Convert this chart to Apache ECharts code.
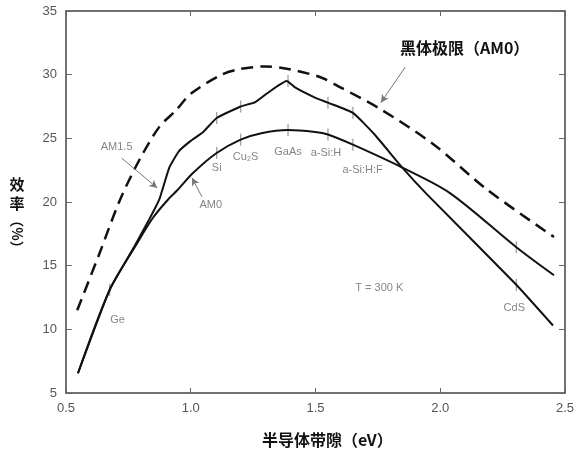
<!DOCTYPE html>
<html>
<head>
<meta charset="utf-8">
<script src="https://cdn.jsdelivr.net/npm/echarts@6/dist/echarts.min.js"></script>
<style>html,body{margin:0;padding:0;background:#fff;}#c{width:577px;height:455px;}</style>
</head>
<body>
<div id="c"></div>
<script>
// Blackbody limit (AM0), dashed
const blackbody = [[0.545,11.5],[0.635,16.0],[0.715,20.1],[0.794,23.3],[0.874,25.9],[0.941,27.2],[1.0,28.5],[1.124,30.0],[1.2,30.45],[1.3,30.65],[1.39,30.45],[1.52,29.8],[1.6,29.0],[1.76,27.3],[1.975,24.5],[2.186,21.0],[2.456,17.25]];
// AM1.5 curve
const am15 = [[0.548,6.55],[0.675,13.1],[0.774,16.5],[0.83,18.5],[0.874,20.2],[0.914,22.7],[0.953,24.0],[1.0,24.8],[1.05,25.5],[1.104,26.6],[1.2,27.5],[1.259,27.85],[1.311,28.6],[1.385,29.5],[1.418,29.0],[1.498,28.2],[1.55,27.8],[1.65,27.0],[1.737,25.3],[1.848,22.7],[1.947,20.6],[2.305,13.5],[2.452,10.3]];
// AM0 curve
const am0 = [[0.548,6.55],[0.675,13.1],[0.774,16.4],[0.85,18.8],[0.914,20.3],[0.945,20.9],[1.01,22.3],[1.104,23.85],[1.2,24.9],[1.283,25.4],[1.39,25.65],[1.498,25.5],[1.55,25.3],[1.65,24.5],[1.848,22.7],[2.039,20.7],[2.305,16.45],[2.456,14.25]];
// Material band gaps marked on the curves
const materials = ['Ge','Si','Cu₂S','GaAs','a-Si:H','a-Si:H:F','CdS'];
const materialGap = [0.675,1.104,1.2,1.39,1.55,1.65,2.305];
const am15AtGap = [13.1,26.6,27.5,29.5,27.8,27.0,13.5];
const am0AtGap = [13.1,23.85,24.9,25.65,25.3,24.5,16.45];
// Axis ticks
const xTicks = [0.5,1.0,1.5,2.0,2.5];
const yTicks = [5,10,15,20,25,30,35];

// annotation texts and anchor points (data coordinates)
const noteText = ['Ge','Si','Cu₂S','GaAs','a-Si:H','a-Si:H:F','CdS','AM1.5','AM0','T = 300 K'];
const notePos = [[0.707,10.7],[1.104,22.67],[1.22,23.5],[1.39,23.9],[1.542,23.85],[1.689,22.5],[2.297,11.67],[0.703,24.32],[1.08,19.76],[1.756,13.24]];

const chart = echarts.init(document.getElementById('c'));
const axisColor = '#444';
const labelFont = 'Liberation Sans, Arial, DejaVu Sans, sans-serif';
const cjk = '"Noto Sans CJK SC", sans-serif';

const tickData = [];
materialGap.forEach((g,i)=>{
  tickData.push([g, am15AtGap[i]]);
  if (am0AtGap[i] !== am15AtGap[i]) tickData.push([g, am0AtGap[i]]);
});

const option = {
  animation: false,
  backgroundColor: '#fff',
  grid: {left: 66, right: 8, top: 11, bottom: 62},
  xAxis: [{
    type: 'value', min: xTicks[0], max: xTicks[xTicks.length-1], interval: 0.5,
    axisLine: {lineStyle: {color: axisColor, width: 1.5}},
    axisTick: {inside: true, length: 5, lineStyle: {color: '#666'}},
    axisLabel: {color: '#555', fontSize: 13, fontFamily: labelFont, margin: 9, formatter: v => v.toFixed(1)},
    splitLine: {show: false}
  },{
    type: 'value', position: 'top', min: xTicks[0], max: xTicks[xTicks.length-1], interval: 0.5,
    axisLine: {lineStyle: {color: axisColor, width: 1.5}},
    axisTick: {inside: true, length: 5, lineStyle: {color: '#666'}},
    axisLabel: {show: false}, splitLine: {show: false}
  }],
  yAxis: [{
    type: 'value', min: yTicks[0], max: yTicks[yTicks.length-1], interval: 5,
    axisLine: {show: true, lineStyle: {color: axisColor, width: 1.5}},
    axisTick: {show: true, inside: true, length: 6, lineStyle: {color: '#666'}},
    axisLabel: {color: '#555', fontSize: 13, fontFamily: labelFont, margin: 9},
    splitLine: {show: false}
  },{
    type: 'value', position: 'right', min: yTicks[0], max: yTicks[yTicks.length-1], interval: 5,
    axisLine: {show: true, lineStyle: {color: axisColor, width: 1.5}},
    axisTick: {show: true, inside: true, length: 6, lineStyle: {color: '#666'}},
    axisLabel: {show: false}, splitLine: {show: false}
  }],
  series: [
    {
      type: 'line', name: 'blackbody', data: blackbody, smooth: 0.3, symbol: 'none',
      lineStyle: {color: '#111', width: 2.5, type: [12, 7]},
      markLine: {
        silent: true, symbol: ['none','arrow'], symbolSize: [6, 8],
        lineStyle: {color: '#777', width: 1, type: 'solid'}, label: {show: false},
        data: [[{coord: [1.86, 30.6]}, {coord: [1.762, 27.8]}]]
      }
    },
    {
      type: 'line', name: 'AM1.5', data: am15, smooth: 0.15, symbol: 'none',
      lineStyle: {color: '#111', width: 2},
      markLine: {
        silent: true, symbol: ['none','arrow'], symbolSize: [6, 8],
        lineStyle: {color: '#777', width: 1, type: 'solid'}, label: {show: false},
        data: [[{coord: [0.723, 23.45]}, {coord: [0.866, 21.1]}]]
      }
    },
    {
      type: 'line', name: 'AM0', data: am0, smooth: 0.3, symbol: 'none',
      lineStyle: {color: '#111', width: 2},
      markLine: {
        silent: true, symbol: ['none','arrow'], symbolSize: [6, 8],
        lineStyle: {color: '#777', width: 1, type: 'solid'}, label: {show: false},
        data: [[{coord: [1.045, 20.4]}, {coord: [1.005, 21.9]}]]
      }
    },
    {
      type: 'scatter', name: 'gapTicks', data: tickData, symbol: 'rect', symbolSize: [1.3, 12],
      itemStyle: {color: '#888'}, z: 1
    },
    {
      type: 'scatter', name: 'notes', symbolSize: 0,
      data: noteText.map((t,i)=>({value: notePos[i], name: t})),
      label: {show: true, position: 'inside', formatter: p => p.name, color: '#666', fontSize: 11, fontFamily: 'Liberation Sans, DejaVu Sans, sans-serif'}
    }
  ],
  graphic: [
    {type: 'text', left: 400, top: 40, style: {text: '黑体极限（AM0）', font: 'bold 16px ' + cjk, fill: '#111'}},
    {type: 'text', left: 262, top: 432, style: {text: '半导体带隙（eV）', font: 'bold 16px ' + cjk, fill: '#111'}},
    {type: 'text', x: 17, y: 194, style: {text: '效\n率', font: 'bold 15px ' + cjk, fill: '#111', lineHeight: 19, textAlign: 'center', textVerticalAlign: 'middle'}},
    {type: 'text', x: 17, y: 234, rotation: -Math.PI/2, style: {text: '（%）', font: 'bold 14px ' + cjk, fill: '#111', textAlign: 'center', textVerticalAlign: 'middle'}}
  ]
};
chart.setOption(option);
</script>
</body>
</html>
